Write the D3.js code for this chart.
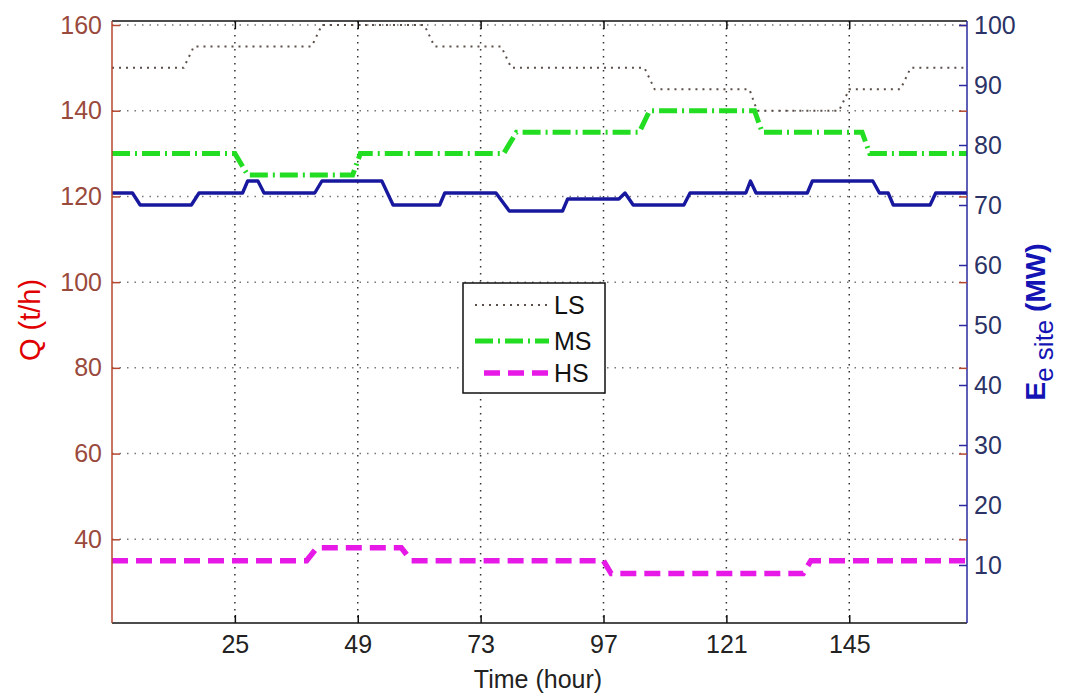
<!DOCTYPE html>
<html>
<head>
<meta charset="utf-8">
<script src="https://cdn.jsdelivr.net/npm/d3@7"></script>
<style>
	body { margin: 0; background: #fff; }
	svg text { font-family: "Liberation Sans", Arial, sans-serif; }
</style>
</head>
<body>
<div id="chart"></div>
<script>
// steam flows (left axis) and site power (right axis)
var lsHours = [1, 15, 17, 40, 42, 62, 64, 77, 79, 105, 107, 125.5, 127, 143, 145, 155, 157, 168];
var lsValues = [150, 150, 155, 155, 160, 160, 155, 155, 150, 150, 145, 145, 140, 140, 145, 145, 150, 150];

var msHours = [1, 25, 27.5, 48, 49.5, 77.5, 80, 104, 106, 126.5, 128, 147.5, 149, 168];
var msValues = [130, 130, 125, 125, 130, 130, 135, 135, 140, 140, 135, 135, 130, 130];

var hsHours = [1, 39, 41, 57.5, 59.5, 97, 98.5, 136, 137.5, 168];
var hsValues = [35, 35, 38, 38, 35, 35, 32, 32, 35, 35];

var eHours = [1, 5, 6.5, 16.5, 18, 26.5, 27.5, 29.5, 30.7, 40.6, 42, 53.7, 55.9, 65, 66, 76, 78.6, 89, 90,
	100, 101.2, 102.8, 112.7, 113.9, 124.8, 125.7, 126.8, 136.8, 137.8, 149.6, 150.9, 152.6, 153.6, 160.8, 161.9, 168];
var eValues = [72, 72, 70, 70, 72, 72, 74, 74, 72, 72, 74, 74, 70, 70, 72, 72, 69, 69, 71,
	71, 72, 70, 70, 72, 72, 74, 72, 72, 74, 74, 72, 72, 70, 70, 72, 72];

var xTicks = [25, 49, 73, 97, 121, 145];
var qTicks = [40, 60, 80, 100, 120, 140, 160];
var eTicks = [10, 20, 30, 40, 50, 60, 70, 80, 90, 100];

var width = 1078, height = 693;
var box = {left: 112, right: 967, top: 21, bottom: 623};
var fontSize = 25;

var svg = d3.select('#chart').append('svg')
	.attr('width', width)
	.attr('height', height);

svg.append('rect').attr('width', width).attr('height', height).attr('fill', '#fff');

var x = d3.scaleLinear().domain([1, 168]).range([box.left, box.right]);
var yQ = d3.scaleLinear().domain([20, 160]).range([625, 25]);
var yE = d3.scaleLinear().domain([0, 100]).range([625, 25]);

svg.append('clipPath').attr('id', 'plot_clip')
	.append('rect')
	.attr('x', box.left).attr('y', box.top)
	.attr('width', box.right - box.left).attr('height', box.bottom - box.top);

// grid
var grid = svg.append('g');
grid.selectAll('line.gx').data(xTicks).enter().append('line')
	.attr('x1', d => x(d)).attr('x2', d => x(d))
	.attr('y1', box.top).attr('y2', box.bottom)
	.attr('stroke', '#333').attr('stroke-width', 1.5).attr('stroke-dasharray', '1.5,5.5');
grid.selectAll('line.gy').data(qTicks).enter().append('line')
	.attr('x1', box.left).attr('x2', box.right)
	.attr('y1', d => yQ(d)).attr('y2', d => yQ(d))
	.attr('stroke', '#777').attr('stroke-width', 1.5).attr('stroke-dasharray', '1.5,6');

function series(hours, values) {
	return hours.map((h, i) => ({h: h, v: values[i]}));
}

var lineQ = d3.line().x(d => x(d.h)).y(d => yQ(d.v));
var lineE = d3.line().x(d => x(d.h)).y(d => yE(d.v));

var plot = svg.append('g').attr('clip-path', 'url(#plot_clip)');

plot.append('path').datum(series(lsHours, lsValues))
	.attr('d', lineQ).attr('fill', 'none')
	.attr('stroke', '#5a4f4a').attr('stroke-width', 2).attr('stroke-dasharray', '2,5');

plot.append('path').datum(series(msHours, msValues))
	.attr('d', lineQ).attr('fill', 'none')
	.attr('stroke', '#22dd22').attr('stroke-width', 5).attr('stroke-dasharray', '18,5,2,5');

plot.append('path').datum(series(hsHours, hsValues))
	.attr('d', lineQ).attr('fill', 'none')
	.attr('stroke', '#e619e6').attr('stroke-width', 5.5).attr('stroke-dasharray', '16,8');

plot.append('path').datum(series(eHours, eValues))
	.attr('d', lineE).attr('fill', 'none')
	.attr('stroke', '#18189e').attr('stroke-width', 3.4).attr('stroke-linejoin', 'round');

// axes frame
var qColor = '#b5472f', eColor = '#2a2aa0';
var frame = svg.append('g').attr('stroke-width', 1.5);
frame.append('line').attr('x1', box.left).attr('x2', box.right).attr('y1', box.top).attr('y2', box.top).attr('stroke', '#111');
frame.append('line').attr('x1', box.left).attr('x2', box.right).attr('y1', box.bottom).attr('y2', box.bottom).attr('stroke', '#111');
frame.append('line').attr('x1', box.left).attr('x2', box.left).attr('y1', box.top).attr('y2', box.bottom).attr('stroke', qColor);
frame.append('line').attr('x1', box.right).attr('x2', box.right).attr('y1', box.top).attr('y2', box.bottom).attr('stroke', eColor);

// x axis, ticks inward at bottom and top
var xAxis = d3.axisBottom(x).tickValues(xTicks).tickSize(-8).tickPadding(12);
var gx = svg.append('g').attr('transform', `translate(0, ${box.bottom})`).call(xAxis);
gx.select('.domain').remove();
gx.selectAll('line').attr('stroke', '#111').attr('stroke-width', 1.5);
gx.selectAll('text').attr('font-size', fontSize).attr('fill', '#222');

var gxTop = svg.append('g').attr('transform', `translate(0, ${box.top})`)
	.call(d3.axisTop(x).tickValues(xTicks).tickSize(-8).tickFormat(''));
gxTop.select('.domain').remove();
gxTop.selectAll('line').attr('stroke', '#111').attr('stroke-width', 1.5);

// left axis Q
var gq = svg.append('g').attr('transform', `translate(${box.left}, 0)`)
	.call(d3.axisLeft(yQ).tickValues(qTicks).tickSize(-8).tickPadding(10));
gq.select('.domain').remove();
gq.selectAll('line').attr('stroke', qColor).attr('stroke-width', 1.5);
gq.selectAll('text').attr('font-size', fontSize).attr('fill', '#9a4a3c');

var gqRight = svg.append('g').attr('transform', `translate(${box.right}, 0)`)
	.call(d3.axisRight(yQ).tickValues(qTicks).tickSize(-8).tickFormat(''));
gqRight.select('.domain').remove();
gqRight.selectAll('line').attr('stroke', qColor).attr('stroke-width', 1.5);

// right axis E
var ge = svg.append('g').attr('transform', `translate(${box.right}, 0)`)
	.call(d3.axisRight(yE).tickValues(eTicks).tickSize(-8).tickPadding(7));
ge.select('.domain').remove();
ge.selectAll('line').attr('stroke', eColor).attr('stroke-width', 1.5);
ge.selectAll('text').attr('font-size', fontSize).attr('fill', '#2b3366');

// axis titles
svg.append('text')
	.attr('x', 538).attr('y', 688)
	.attr('text-anchor', 'middle')
	.attr('font-size', fontSize).attr('fill', '#222')
	.text('Time (hour)');

svg.append('text')
	.attr('transform', 'translate(40, 320) rotate(-90)')
	.attr('text-anchor', 'middle')
	.attr('font-size', 29).attr('fill', '#e00000')
	.text('Q (t/h)');

var eLabel = svg.append('text')
	.attr('transform', 'translate(1045, 322) rotate(-90)')
	.attr('text-anchor', 'middle')
	.attr('font-size', 28).attr('font-weight', 'bold').attr('fill', '#1414b4');
eLabel.append('tspan').text('E');
eLabel.append('tspan').attr('font-size', 26).attr('font-weight', 'normal').attr('dy', 8).text('e site');
eLabel.append('tspan').attr('dy', -8).text(' (MW)');

// legend
var legendItems = [
	{name: 'LS', color: '#5a4f4a', w: 2, dash: '2,5', x1: 475},
	{name: 'MS', color: '#22dd22', w: 5, dash: '18,5,2,5', x1: 475},
	{name: 'HS', color: '#e619e6', w: 5.5, dash: '16,8', x1: 484}
];
var legendY = [305, 341, 373];
var legend = svg.append('g');
legend.append('rect')
	.attr('x', 463).attr('y', 283).attr('width', 142).attr('height', 110)
	.attr('fill', '#fff').attr('stroke', '#111').attr('stroke-width', 1.5);
legendItems.forEach((item, i) => {
	legend.append('line')
		.attr('x1', item.x1).attr('x2', 549)
		.attr('y1', legendY[i]).attr('y2', legendY[i])
		.attr('stroke', item.color).attr('stroke-width', item.w).attr('stroke-dasharray', item.dash);
	legend.append('text')
		.attr('x', 554).attr('y', legendY[i])
		.attr('dy', '0.35em')
		.attr('font-size', fontSize).attr('fill', '#111')
		.text(item.name);
});
</script>
</body>
</html>
